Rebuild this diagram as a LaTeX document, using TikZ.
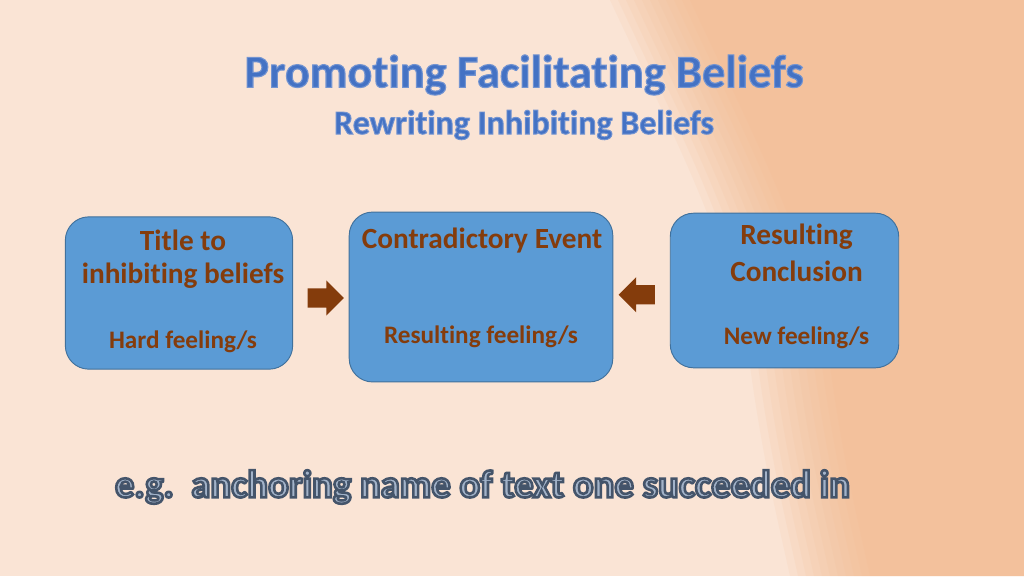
\documentclass[tikz,border=0pt]{standalone}
\usepackage{fontspec}
\setmainfont{Carlito}[Ligatures=NoCommon]
\usepackage{tikz}
\usetikzlibrary{calc,shapes.arrows,positioning}
\usepackage{xcolor}
\definecolor{bgbase}{HTML}{FAE4D5}
\definecolor{bgdark}{HTML}{F3B688}
\definecolor{boxblue}{HTML}{5B9BD5}
\definecolor{boxline}{HTML}{41719C}
\definecolor{brownish}{HTML}{843C0C}
\definecolor{titleblue}{HTML}{4472C4}
\definecolor{slatefill}{HTML}{A3B3C9}
% text with an outline (fill then stroke)
\newcommand{\rimtext}[3]{\special{pdf:literal direct 2 Tr #1 w #2 RG}#3\special{pdf:literal direct 0 Tr}}

\begin{document}
\begin{tikzpicture}[x=0.03cm,y=0.03cm,line width=1pt,
  box/.style={draw=boxline,fill=boxblue,rounded corners=20pt,line width=0.8pt,inner sep=0pt},
  head/.style={text=brownish,font=\bfseries\fontsize{25}{28}\selectfont},
  feel/.style={text=brownish,font=\bfseries\fontsize{21.5}{24}\selectfont},
  blockarrow/.style={single arrow,fill=brownish,inner sep=0pt,minimum height=31pt,
    single arrow head extend=6.8pt}]
\useasboundingbox (0,0) rectangle (1024,-576);
\fill[bgbase] (0,0) rectangle (1024,-576);
\foreach \s in {-40,-32,...,40}  % soft edge of the darker band
  \fill[bgdark,opacity=0.1,shift={(\s,0)}] (650,0) .. controls (720,-150) and (775,-250) .. (792,-380)
    .. controls (805,-470) and (820,-530) .. (830,-576) -- (1100,-576) -- (1100,0) -- cycle;

% title and subtitle
\node[text=titleblue,font=\bfseries\fontsize{39.5}{44}\selectfont] (title) at (524,-75)
  {\rimtext{0.9}{0.45 0.58 0.82}{Promoting Facilitating Beliefs}};
\node[text=titleblue,font=\bfseries\fontsize{29}{34}\selectfont] (subtitle) at (524,-125)
  {\rimtext{0.8}{0.45 0.58 0.82}{Rewriting Inhibiting Beliefs}};

% three boxes
\node[box,minimum width=194pt,minimum height=130pt] (b1) at (179,-293) {};
\node[box,minimum width=225pt,minimum height=145pt] (b2) at (481,-297) {};
\node[box,minimum width=195pt,minimum height=132pt] (b3) at (784.5,-290.5) {};

\node[head] (t1a) at ($(b1.north)+(4,-24)$) {Title to};
\node[head] (t1b) at ($(b1.north)+(4,-59)$) {inhibiting beliefs};
\node[feel] (f1) at ($(b1.south)+(4,28)$) {Hard feeling/s};
\node[head] (t2) at ($(b2.north)+(1,-29)$) {Contradictory Event};
\node[feel] (f2) at ($(b2.south)+(0,46)$) {Resulting feeling/s};
\node[head] (t3a) at ($(b3.north)+(12,-24)$) {Resulting};
\node[head] (t3b) at ($(b3.north)+(12,-59)$) {Conclusion};
\node[feel] (f3) at ($(b3.south)+(12,31)$) {New feeling/s};

% block arrows between boxes
\node[blockarrow] (a1) at ($(b1.east)!0.5!(b2.west)+(0,-3)$) {\rule{0pt}{15.4pt}};
\node[blockarrow,shape border rotate=180] (a2) at ($(b2.east)!0.5!(b3.west)+(0,-1)$) {\rule{0pt}{15.4pt}};

% bottom line with a dark rim
\node[text=slatefill,font=\bfseries\fontsize{33}{38}\selectfont] (eg) at (482.5,-487)
  {\rimtext{2.2}{0.267 0.329 0.416}{e.g.\ \ anchoring name of text one succeeded in}};
\end{tikzpicture}
\end{document}
